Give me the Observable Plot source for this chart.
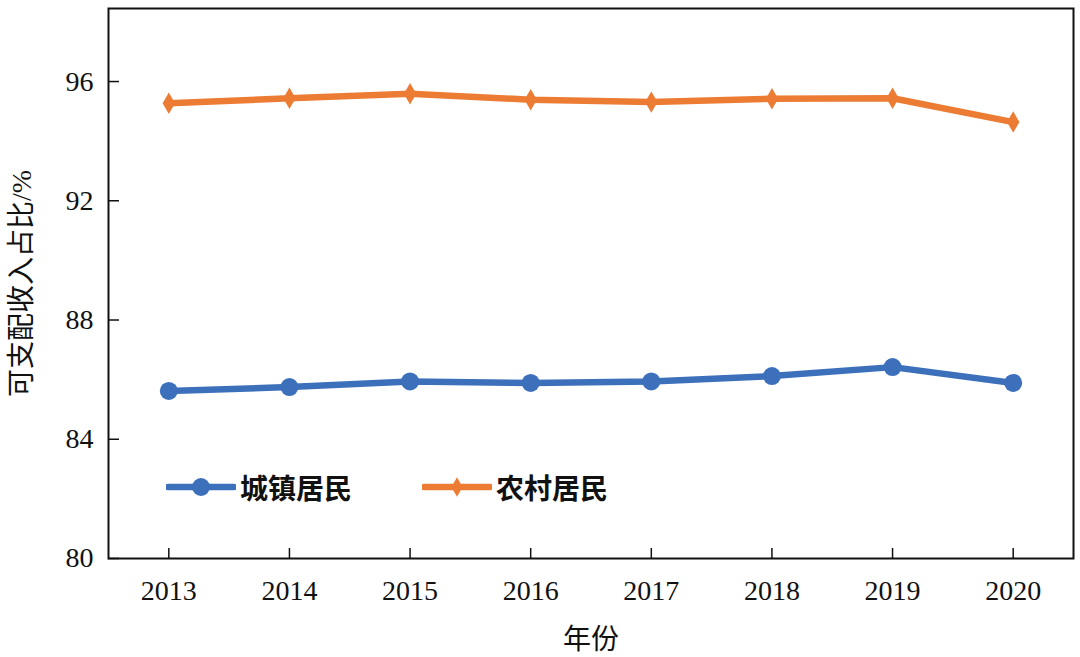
<!DOCTYPE html>
<html>
<head>
<meta charset="utf-8">
<script src="https://cdn.jsdelivr.net/npm/d3@7"></script>
<script src="https://cdn.jsdelivr.net/npm/@observablehq/plot@0.6"></script>
<style>
  body { margin: 0; background: #fff; }
  #wrap { position: relative; width: 1080px; height: 657px; }
  #legend { position: absolute; left: 166px; top: 467px; display: flex; align-items: center; gap: 70px;
            font-family: "Noto Sans CJK SC", sans-serif; font-size: 28px; font-weight: 700; color: #111; }
  .item { display: flex; align-items: center; gap: 4px; }
</style>
</head>
<body>
<div id="wrap"><div id="legend"></div></div>
<script>
const years = [2013, 2014, 2015, 2016, 2017, 2018, 2019, 2020];
const urban = [85.62, 85.75, 85.94, 85.89, 85.94, 86.12, 86.42, 85.89];
const rural = [95.27, 95.44, 95.59, 95.39, 95.31, 95.42, 95.44, 94.64];
const seriesNames = ["城镇居民", "农村居民"];
const seriesColors = ["#3d70bb", "#ec7c34"];
const seriesSymbols = ["circle", "diamond"];
const yTicks = [80, 84, 88, 92, 96];

const data = [
  ...years.map((y, i) => ({year: y, value: urban[i], series: seriesNames[0]})),
  ...years.map((y, i) => ({year: y, value: rural[i], series: seriesNames[1]}))
];

const font = "'Liberation Serif', 'Noto Sans CJK SC', serif";

const chart = Plot.plot({
  width: 1080,
  height: 657,
  marginLeft: 108,
  marginRight: 7,
  marginTop: 8,
  marginBottom: 99,
  style: {fontFamily: font, fontSize: "28px", color: "#111", background: "#fff"},
  x: {domain: [2012.5, 2020.5]},
  y: {domain: [80, 98.45]},
  color: {domain: seriesNames, range: seriesColors},
  symbol: {domain: seriesNames, range: seriesSymbols},
  marks: [
    Plot.axisX({ticks: years, tickSize: -10, strokeWidth: 1.5, text: null, label: null}),
    Plot.axisX({ticks: years, tickSize: 0, tickPadding: 22, tickFormat: d => String(d),
                label: "年份", labelAnchor: "center", labelArrow: "none", labelOffset: 90}),
    Plot.axisY({ticks: yTicks, tickSize: -11, strokeWidth: 1.5, text: null, label: null}),
    Plot.axisY({ticks: yTicks, tickSize: 0, tickPadding: 15,
                label: "可支配收入占比/%", labelAnchor: "center", labelArrow: "none", labelOffset: 97}),
    Plot.frame({stroke: "#111", strokeWidth: 2}),
    Plot.line(data, {x: "year", y: "value", stroke: "series", strokeWidth: 6.5}),
    Plot.dot(data.filter(d => d.series === seriesNames[0]), {x: "year", y: "value", fill: "series", symbol: "series", r: 9}),
    Plot.dot(data.filter(d => d.series === seriesNames[1]), {x: "year", y: "value", fill: "series", symbol: "series", r: 6.5})
  ]
});
document.getElementById("wrap").prepend(chart);

// legend inside plot area
const legend = d3.select("#legend");
seriesNames.forEach((name, i) => {
  const item = legend.append("div").attr("class", "item");
  const svg = item.append("svg").attr("width", 70).attr("height", 36);
  svg.append("line").attr("x1", 2).attr("x2", 68).attr("y1", 18).attr("y2", 18)
    .attr("stroke", seriesColors[i]).attr("stroke-width", 6.5).attr("stroke-linecap", "round");
  const sym = seriesSymbols[i] === "circle" ? d3.symbolCircle : d3.symbolDiamond;
  svg.append("path").attr("d", d3.symbol(sym, i === 0 ? 254 : 110)()).attr("transform", "translate(35,18)")
    .attr("fill", seriesColors[i]);
  item.append("span").text(name);
});
</script>
</body>
</html>
